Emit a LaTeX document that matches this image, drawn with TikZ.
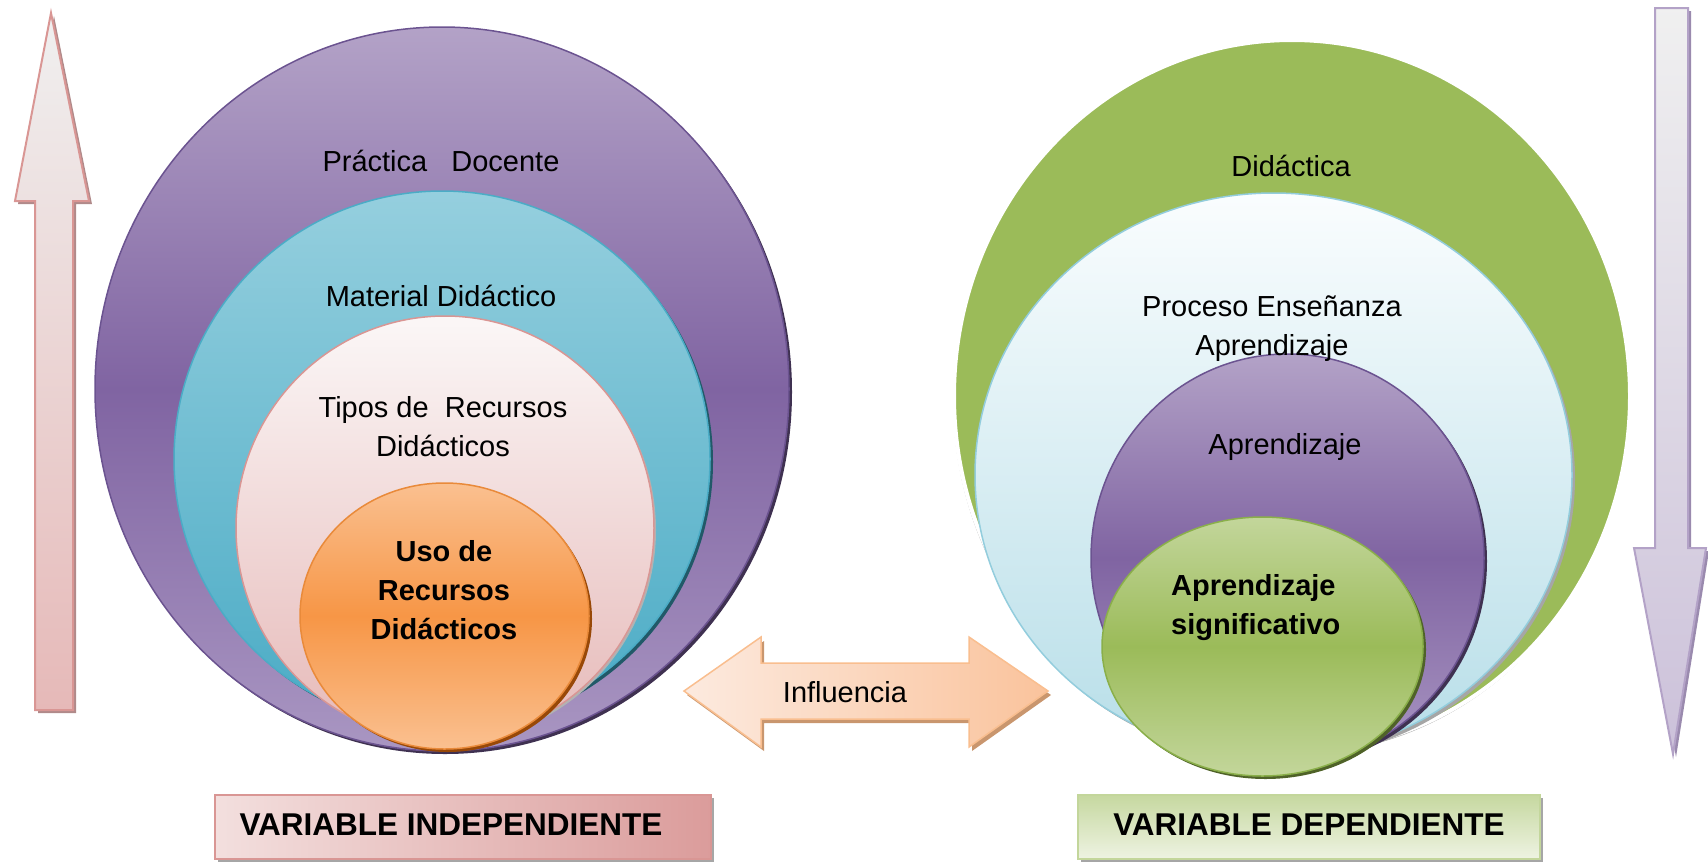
\documentclass[tikz,border=0pt]{standalone}
\usepackage{fontspec}
\setmainfont{Liberation Sans}
\usetikzlibrary{shapes.geometric,shadows}
\definecolor{purTop}{HTML}{B3A2C7}
\definecolor{purMid}{HTML}{8064A2}
\definecolor{purBot}{HTML}{A996C2}
\definecolor{purLine}{HTML}{6B5390}
\definecolor{purDark}{HTML}{3F3151}
\definecolor{tealTop}{HTML}{95CFDE}
\definecolor{tealBot}{HTML}{4AABC5}
\definecolor{tealLine}{HTML}{4BACC6}
\definecolor{tealDark}{HTML}{215968}
\definecolor{pinkTop}{HTML}{FBF7F7}
\definecolor{pinkBot}{HTML}{E6B9B8}
\definecolor{pinkLine}{HTML}{D99694}
\definecolor{oraTop}{HTML}{FAC090}
\definecolor{oraMid}{HTML}{F79646}
\definecolor{oraLine}{HTML}{E98A3A}
\definecolor{oraDark}{HTML}{984807}
\definecolor{grn}{HTML}{9BBB59}
\definecolor{grnLight}{HTML}{C3D69B}
\definecolor{grnLine}{HTML}{8AAF4A}
\definecolor{grnDark}{HTML}{4F6228}
\definecolor{lbTop}{HTML}{FAFDFE}
\definecolor{lbBot}{HTML}{B7DEE8}
\definecolor{lbLine}{HTML}{93CDDD}
\definecolor{arrOraA}{HTML}{FAC39C}
\definecolor{arrOraB}{HTML}{FCEADF}
\definecolor{arrOraLine}{HTML}{F9BE8F}
\definecolor{arrOraDark}{HTML}{C9966E}
\definecolor{lavBot}{HTML}{CCC1DA}
\definecolor{lavLine}{HTML}{B3A2C7}
\definecolor{lavDark}{HTML}{9A8AAE}
\definecolor{rosDark}{HTML}{B08A8A}
\definecolor{boxPinkA}{HTML}{F3DFDE}
\definecolor{boxPinkB}{HTML}{DB9C9B}
\definecolor{boxGrnA}{HTML}{C6D8A0}
\definecolor{boxGrnB}{HTML}{EEF3E2}
\begin{document}
\begin{tikzpicture}[x=1pt,y=-1pt,
  ring/.style={ellipse, inner sep=0pt, outer sep=0pt, line width=1.5pt},
  shd/.style 2 args={drop shadow={shadow xshift=#1, shadow yshift=-#1, fill=#2, opacity=1}},
  lbl/.style={font=\fontsize{29}{39}\selectfont, align=center, inner sep=0pt, text=black},
  blbl/.style={lbl, font=\fontsize{29}{39}\selectfont\bfseries},
  vlbl/.style={inner sep=0pt, text=black, font=\fontsize{31.5}{38}\selectfont\bfseries}]
\useasboundingbox (0,0) rectangle (1708,863);

% ---------- left vertical arrow ----------
\shade[top color=gray!12, bottom color=pinkBot, draw=pinkLine, line width=2pt,
  drop shadow={shadow xshift=3pt, shadow yshift=-3pt, fill=rosDark, opacity=1}]
  (51,13) -- (89,201) -- (73,201) -- (73,710) -- (35,710) -- (35,201) -- (15,201) -- cycle;

% ---------- right vertical arrow ----------
\shade[top color=gray!12, bottom color=lavBot, draw=lavLine, line width=2pt,
  drop shadow={shadow xshift=3pt, shadow yshift=-3pt, fill=lavDark, opacity=1}]
  (1655,8) -- (1688,8) -- (1688,548) -- (1706,548) -- (1673,754) -- (1634,548) -- (1655,548) -- cycle;

% ---------- left circles ----------
\node[ring, minimum width=694, minimum height=724, draw=purLine,
  top color=purTop, bottom color=purBot, middle color=purMid,
  shd={3pt}{purDark}] (pd) at (442,389) {};
\node[ring, minimum width=536, minimum height=536, draw=tealLine,
  top color=tealTop, bottom color=tealBot,
  shd={3pt}{tealDark}] (md) at (442,459) {};
\node[ring, minimum width=418, minimum height=424, draw=pinkLine,
  top color=pinkTop, bottom color=pinkBot,
  shd={2pt}{gray!60}] (tr) at (445,528) {};
\node[ring, minimum width=289, minimum height=266, draw=oraLine,
  top color=oraTop, bottom color=oraTop, middle color=oraMid,
  shd={3pt}{oraDark}] (ur) at (444.5,616) {};

% ---------- right circles ----------
\node[ring, minimum width=676, minimum height=712, draw=white, line width=4pt,
  fill=grn, drop shadow={shadow xshift=-1pt, shadow yshift=-3pt, fill=gray!70, opacity=1}] (di) at (1292,396) {};
\node[ring, minimum width=597, minimum height=564, draw=lbLine,
  top color=lbTop, bottom color=lbBot,
  shd={3pt}{gray!70}] (pe) at (1273.5,475) {};
\node[ring, minimum width=393, minimum height=408, draw=purLine,
  top color=purTop, bottom color=purBot, middle color=purMid,
  shd={3pt}{purDark}] (ap) at (1287.5,558) {};
\node[ring, minimum width=321, minimum height=259, draw=grnLine,
  top color=grnLight, bottom color=grnLight, middle color=grn,
  shd={3pt}{grnDark}] (as) at (1262.5,646.5) {};

% ---------- influence arrow ----------
\shade[left color=arrOraB, right color=arrOraA, draw=arrOraLine, line width=1.5pt,
  drop shadow={shadow xshift=3pt, shadow yshift=-4pt, fill=arrOraDark, opacity=1}]
  (684,691) -- (761,637) -- (761,663) -- (969,663) -- (969,637) -- (1048,691)
  -- (969,747) -- (969,719) -- (761,719) -- (761,747) -- cycle;

% ---------- bottom boxes ----------
\shade[left color=boxPinkA, right color=boxPinkB, draw=pinkLine, line width=1.5pt,
  drop shadow={shadow xshift=3pt, shadow yshift=-3pt, fill=gray!70, opacity=1}]
  (215,795) rectangle (711,859);
\shade[top color=boxGrnA, bottom color=boxGrnB, draw=grnLight, line width=1.5pt,
  drop shadow={shadow xshift=3pt, shadow yshift=-3pt, fill=gray!70, opacity=1}]
  (1078,795) rectangle (1540,859);

% ---------- texts ----------
\node[lbl] (tpd) at (441,161) {Práctica\ \ \ Docente};
\node[lbl] (tmd) at (441,296) {Material Didáctico};
\node[lbl] (ttr) at (443,427) {Tipos de\ \ Recursos\\Didácticos};
\node[blbl] (tur) at (444,590) {Uso de\\Recursos\\Didácticos};
\node[lbl] (tdi) at (1291,166) {Didáctica};
\node[lbl] (tpe) at (1272,329) {Proceso Enseñanza\\Aprendizaje};
\node[lbl] (tap) at (1285,447) {Aprendizaje};
\node[blbl, align=left, anchor=west] (tas) at (1171,608) {Aprendizaje\\significativo};
\node[lbl] (tin) at (845,692) {Influencia};
\node[vlbl] (vi) at (451,825) {VARIABLE INDEPENDIENTE};
\node[vlbl] (vd) at (1309,825) {VARIABLE DEPENDIENTE};
\end{tikzpicture}
\end{document}
